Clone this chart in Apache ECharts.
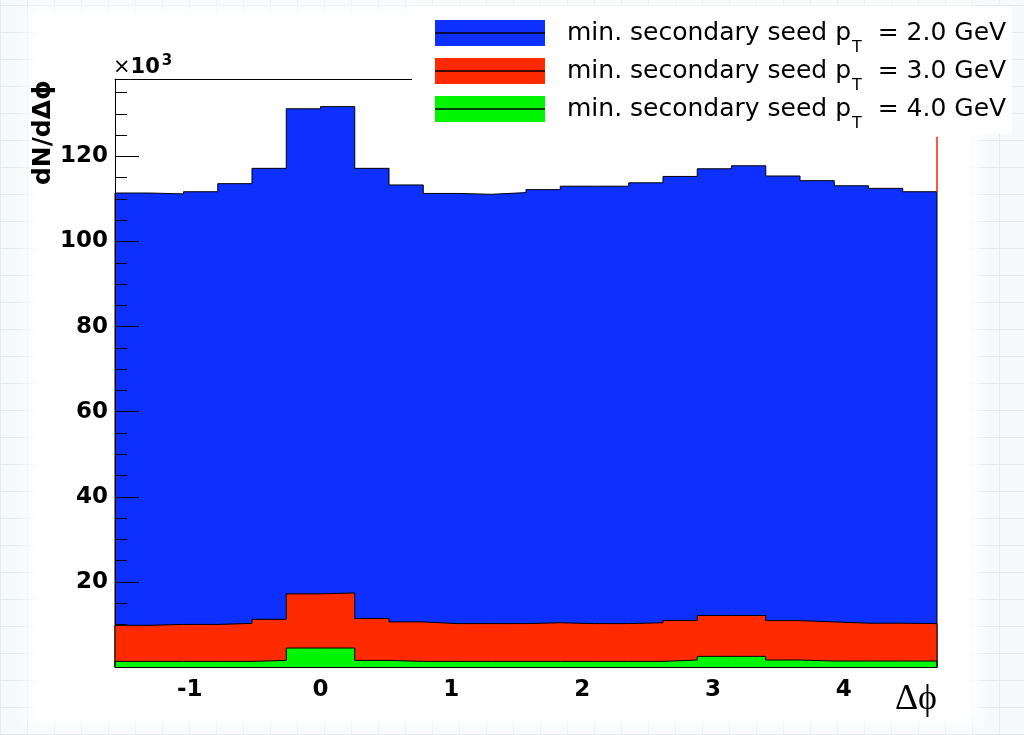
<!DOCTYPE html>
<html>
<head>
<meta charset="utf-8">
<script src="https://cdn.jsdelivr.net/npm/echarts@6/dist/echarts.min.js"></script>
<style>
  html, body { margin: 0; padding: 0; }
  body {
    width: 1024px; height: 735px; position: relative; overflow: hidden;
    background-color: #f7fafb;
    background-image:
      repeating-linear-gradient(0deg, #dfe9ee 0px, #dfe9ee 1px, transparent 1px, transparent 27px),
      repeating-linear-gradient(90deg, #e4edf1 0px, #e4edf1 1px, transparent 1px, transparent 27px);
  }
  #paper {
    position: absolute; left: 38px; top: 16px; width: 930px; height: 700px;
    background: #ffffff; box-shadow: 0 0 14px 10px #ffffff;
  }
  #chart { position: absolute; left: 0; top: 0; width: 1024px; height: 735px; }
</style>
</head>
<body>
<div id="paper"></div>
<div id="chart"></div>
<script>
// Δϕ distributions for three minimum secondary-seed pT thresholds (entries ×10^3 per bin)
const PHI_MIN = -Math.PI / 2;
const PHI_MAX = 3 * Math.PI / 2;
const N_BINS = 24;

const seedThresholds = [2.0, 3.0, 4.0];
const seed2GeV = [111.4, 111.2, 111.7, 113.6, 117.2, 131.2, 131.7, 117.2, 113.3, 111.3, 111.1, 111.5,
                  112.2, 113.0, 113.0, 113.8, 115.3, 117.1, 117.8, 115.4, 114.3, 113.1, 112.5, 111.7];
const seed3GeV = [9.8, 10.0, 10.0, 10.25, 11.2, 17.2, 17.4, 11.4, 10.6, 10.2, 10.2, 10.2,
                  10.4, 10.2, 10.2, 10.4, 10.95, 12.1, 12.1, 10.9, 10.6, 10.3, 10.3, 10.2];
const seed4GeV = [1.32, 1.32, 1.32, 1.32, 1.55, 4.46, 4.46, 1.55, 1.32, 1.32, 1.32, 1.32,
                  1.32, 1.32, 1.32, 1.32, 1.64, 2.5, 2.5, 1.64, 1.4, 1.4, 1.4, 1.4];

const Y_MAX = 138.2;
const xTickLabels = [-1, 0, 1, 2, 3, 4];
const yTickLabels = [20, 40, 60, 80, 100, 120];
const yMajorTicks = [0, 20, 40, 60, 80, 100, 120];
const yMinorTicks = [5, 10, 15, 25, 30, 35, 45, 50, 55, 65, 70, 75, 85, 90, 95, 105, 110, 115, 125, 130, 135];
const frameEdgeTop = 124.6;   // upper end of the red frame edge on the right

const fillColors = ['#0d30ff', '#ff2a00', '#00f500'];
const histograms = [seed2GeV, seed3GeV, seed4GeV];

const binWidth = (PHI_MAX - PHI_MIN) / N_BINS;

// Histogram outline: closed step path from the axis, across every bin, back to the axis
function stepPoints(values) {
  const pts = [[PHI_MIN, 0]];
  values.forEach((v, i) => pts.push([PHI_MIN + i * binWidth, v]));
  pts.push([PHI_MAX, values[values.length - 1]]);
  pts.push([PHI_MAX, 0]);
  return pts;
}

const seriesName = t => 'min. secondary seed pT = ' + t.toFixed(1) + ' GeV';
const FONT = 'DejaVu Sans';

const series = histograms.map((vals, k) => ({
  name: seriesName(seedThresholds[k]),
  type: 'line',
  step: 'end',
  symbol: 'none',
  silent: true,
  animation: false,
  z: k === 0 ? 1 : 3,
  lineStyle: { color: '#000', width: 1 },
  areaStyle: { color: fillColors[k], opacity: 1 },
  data: stepPoints(vals)
}));

// thin red frame edge on the right, above the top of the last bin
series[1].markLine = {
  silent: true,
  symbol: 'none',
  label: { show: false },
  lineStyle: { color: '#ff2000', width: 1.5, type: 'solid' },
  data: [[{ coord: [PHI_MAX, seed2GeV[N_BINS - 1]] }, { coord: [PHI_MAX, frameEdgeTop] }]]
};

const legendRich = {
  m: { fontFamily: FONT, fontSize: 25, color: '#000', lineHeight: 38 },
  s: { fontFamily: FONT, fontSize: 16, color: '#000', padding: [30, 0, 0, 1], lineHeight: 16 }
};
const legendFormatter = name => {
  const k = series.findIndex(s => s.name === name);
  return '{m|min. secondary seed p}{s|T}{m|  = ' + seedThresholds[k].toFixed(1) + ' GeV}';
};
const legendBase = {
  orient: 'vertical',
  left: 412,
  top: 6,
  padding: [4, 6, 2, 23],
  itemWidth: 110,
  itemHeight: 26,
  itemGap: -8,
  selectedMode: false,
  formatter: legendFormatter,
  textStyle: { rich: legendRich, padding: [0, 0, 0, 17] }
};

const option = {
  backgroundColor: 'transparent',
  animation: false,
  grid: { left: 115, right: 87, top: 79, bottom: 68, containLabel: false },
  legend: [
    Object.assign({}, legendBase, {
      z: 6,
      backgroundColor: '#ffffff',
      icon: 'rect',
      data: series.map((s, k) => ({ name: s.name, icon: 'rect', itemStyle: { color: fillColors[k], borderWidth: 0 } }))
    }),
    Object.assign({}, legendBase, {
      z: 7,
      itemHeight: 1.5,
      icon: 'rect',
      itemStyle: { color: '#000', borderWidth: 0 },
      textStyle: {
        rich: {
          m: Object.assign({}, legendRich.m, { color: 'rgba(0,0,0,0)' }),
          s: Object.assign({}, legendRich.s, { color: 'rgba(0,0,0,0)' })
        },
        padding: [0, 0, 0, 17]
      },
      data: series.map(s => ({ name: s.name, icon: 'rect', itemStyle: { color: '#000' } }))
    })
  ],
  xAxis: [
    {
      type: 'value', position: 'bottom', min: PHI_MIN, max: PHI_MAX, z: 5,
      axisLine: { show: true, onZero: false, lineStyle: { color: '#000', width: 1 } },
      axisTick: { show: false },
      splitLine: { show: false },
      axisLabel: {
        customValues: xTickLabels, color: '#000', fontFamily: FONT, fontWeight: 'bold',
        fontSize: 23, margin: 12
      }
    },
    {
      type: 'value', position: 'top', min: PHI_MIN, max: PHI_MAX, z: 0,
      axisLine: { show: true, onZero: false, lineStyle: { color: '#000', width: 1 } },
      axisTick: { show: false }, axisLabel: { show: false }, splitLine: { show: false }
    }
  ],
  yAxis: [
    {
      type: 'value', position: 'left', min: 0, max: Y_MAX, z: 2,
      axisLine: { show: true, onZero: false, lineStyle: { color: '#000', width: 1 } },
      axisTick: { show: true, inside: true, length: 24, customValues: yMajorTicks, lineStyle: { color: '#000' } },
      splitLine: { show: false },
      axisLabel: {
        customValues: yTickLabels, color: '#000', fontFamily: FONT, fontWeight: 'bold',
        fontSize: 23, margin: 7
      }
    },
    {
      type: 'value', position: 'left', offset: 0, min: 0, max: Y_MAX, z: 2,
      axisLine: { show: false, onZero: false },
      axisTick: { show: true, inside: true, length: 12, customValues: yMinorTicks, lineStyle: { color: '#000' } },
      axisLabel: { show: false }, splitLine: { show: false }
    }
  ],
  graphic: [
    {
      type: 'text', x: 43, y: 80, rotation: Math.PI / 2, z: 10,
      style: { text: 'dN/dΔϕ', fill: '#000', font: 'bold 25px "DejaVu Sans"', align: 'right', verticalAlign: 'middle' }
    },
    {
      type: 'text', x: 937, y: 700, z: 10,
      style: { text: 'Δϕ', fill: '#000', font: '36px "Liberation Serif"', align: 'right', verticalAlign: 'middle' }
    },
    {
      type: 'text', x: 113, y: 80, z: 10,
      style: {
        text: '{a|×}{b|10}{c|3}', align: 'left', verticalAlign: 'bottom',
        rich: {
          a: { fontFamily: FONT, fontSize: 21, fill: '#000', lineHeight: 24 },
          b: { fontFamily: FONT, fontSize: 21, fontWeight: 'bold', fill: '#000', lineHeight: 24 },
          c: { fontFamily: FONT, fontSize: 15, fontWeight: 'bold', fill: '#000', lineHeight: 15, padding: [0, 0, 14, 2] }
        }
      }
    }
  ],
  series: series.map(s => Object.assign(s, { xAxisIndex: 0, yAxisIndex: 0 }))
};

const chart = echarts.init(document.getElementById('chart'), null, { renderer: 'canvas' });
chart.setOption(option);
</script>
</body>
</html>
